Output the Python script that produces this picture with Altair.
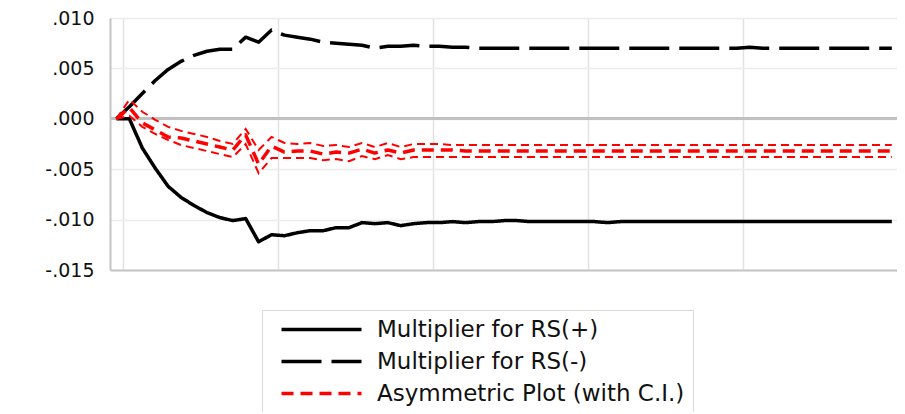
import altair as alt
import pandas as pd

periods = list(range(61))

rs_pos = [0.0, 0.0, -0.0029, -0.0049, -0.0067, -0.0078, -0.0086, -0.0093, -0.0098, -0.0101,
          -0.0099, -0.0122, -0.0115, -0.0116, -0.0113, -0.0111, -0.0111, -0.0108, -0.0108, -0.0103,
          -0.0104, -0.0103, -0.0106, -0.0104, -0.0103, -0.0103, -0.0102, -0.0103, -0.0102, -0.0102,
          -0.0101, -0.0101, -0.0102, -0.0102, -0.0102, -0.0102, -0.0102, -0.0102, -0.0103, -0.0102,
          -0.0102, -0.0102, -0.0102, -0.0102, -0.0102, -0.0102, -0.0102, -0.0102, -0.0102, -0.0102,
          -0.0102, -0.0102, -0.0102, -0.0102, -0.0102, -0.0102, -0.0102, -0.0102, -0.0102, -0.0102,
          -0.0102]

rs_neg = [0.0, 0.0012, 0.0025, 0.0038, 0.0049, 0.0057, 0.0063, 0.0067, 0.0069, 0.0069,
          0.0081, 0.0076, 0.0088, 0.0083, 0.0081, 0.0079, 0.0076, 0.0075, 0.0074, 0.0073,
          0.0070, 0.0072, 0.0072, 0.0073, 0.0072, 0.0072, 0.0071, 0.0071, 0.0070, 0.0070,
          0.0070, 0.0070, 0.0070, 0.0070, 0.0070, 0.0070, 0.0070, 0.0070, 0.0070, 0.0070,
          0.0070, 0.0070, 0.0070, 0.0070, 0.0070, 0.0070, 0.0070, 0.0070, 0.0070, 0.0071,
          0.0070, 0.0070, 0.0070, 0.0070, 0.0070, 0.0070, 0.0070, 0.0070, 0.0070, 0.0070,
          0.0070]

asym = [0.0, 0.0011, -0.0004, -0.0011, -0.0018, -0.0019, -0.0022, -0.0025, -0.0028, -0.0031,
        -0.0016, -0.0045, -0.0027, -0.0033, -0.0032, -0.0032, -0.0035, -0.0033, -0.0034, -0.0030,
        -0.0034, -0.0031, -0.0034, -0.0031, -0.0031, -0.0031, -0.0031, -0.0032, -0.0032, -0.0032,
        -0.0032, -0.0032, -0.0032, -0.0032, -0.0032, -0.0032, -0.0032, -0.0032, -0.0032, -0.0032,
        -0.0032, -0.0032, -0.0032, -0.0032, -0.0032, -0.0032, -0.0032, -0.0032, -0.0032, -0.0032,
        -0.0032, -0.0032, -0.0032, -0.0032, -0.0032, -0.0032, -0.0032, -0.0032, -0.0032, -0.0032,
        -0.0032]

ci_upper = [0.0, 0.0019, 0.0007, -0.0001, -0.0008, -0.0012, -0.0015, -0.0018, -0.0022, -0.0025,
            -0.0010, -0.0031, -0.0018, -0.0024, -0.0025, -0.0024, -0.0027, -0.0026, -0.0028, -0.0024,
            -0.0028, -0.0024, -0.0028, -0.0025, -0.0025, -0.0025, -0.0026, -0.0026, -0.0026, -0.0026,
            -0.0026, -0.0026, -0.0026, -0.0026, -0.0026, -0.0026, -0.0026, -0.0026, -0.0026, -0.0026,
            -0.0026, -0.0026, -0.0026, -0.0026, -0.0026, -0.0026, -0.0026, -0.0026, -0.0026, -0.0026,
            -0.0026, -0.0026, -0.0026, -0.0026, -0.0026, -0.0026, -0.0026, -0.0026, -0.0026, -0.0026,
            -0.0026]

ci_lower = [0.0, 0.0003, -0.0008, -0.0015, -0.0021, -0.0026, -0.0029, -0.0032, -0.0035, -0.0038,
            -0.0025, -0.0054, -0.0039, -0.0039, -0.0039, -0.0039, -0.0041, -0.0040, -0.0042, -0.0037,
            -0.0040, -0.0036, -0.0040, -0.0038, -0.0038, -0.0038, -0.0038, -0.0038, -0.0038, -0.0038,
            -0.0038, -0.0038, -0.0038, -0.0038, -0.0038, -0.0038, -0.0038, -0.0038, -0.0038, -0.0038,
            -0.0038, -0.0038, -0.0038, -0.0038, -0.0038, -0.0038, -0.0038, -0.0038, -0.0038, -0.0038,
            -0.0038, -0.0038, -0.0038, -0.0038, -0.0038, -0.0038, -0.0038, -0.0038, -0.0038, -0.0038,
            -0.0038]

series_names = ["Multiplier for RS(+)", "Multiplier for RS(-)", "Asymmetric Plot (with C.I.)"]
y_ticks = [-0.015, -0.010, -0.005, 0.0, 0.005, 0.010]
x_grid = [0.5, 12.5, 24.5, 36.5, 48.5]

n = len(periods)
df_main = pd.DataFrame({
    "period": periods * 3,
    "value": rs_pos + rs_neg + asym,
    "series": [series_names[0]] * n + [series_names[1]] * n + [series_names[2]] * n,
})
df_ci = pd.DataFrame({
    "period": periods * 2,
    "value": ci_upper + ci_lower,
    "bound": ["upper"] * n + ["lower"] * n,
})

FONT = "DejaVu Sans"

x_enc = alt.X("period:Q",
              scale=alt.Scale(domain=[-0.5, 60.4], nice=False, zero=False),
              axis=alt.Axis(values=x_grid, labels=False, ticks=False, title=None,
                            grid=True, gridColor="#e2e2e2", gridWidth=1.5,
                            domainColor="#c4c4c4", domainWidth=2))
y_enc = alt.Y("value:Q",
              scale=alt.Scale(domain=[-0.015, 0.010], nice=False, zero=False),
              axis=alt.Axis(values=y_ticks, title=None, ticks=False, labelPadding=16,
                            labelExpr="(datum.value < -0.0000001 ? '-' : '') + replace(format(abs(datum.value), '.3f'), '0.', '.')",
                            labelFont=FONT, labelFontSize=19, labelColor="#111111",
                            grid=True, gridColor="#ececec", gridWidth=1.5,
                            domainColor="#c4c4c4", domainWidth=2))

leg = alt.Legend(title=None, orient="none", legendX=152, legendY=292,
                 strokeColor="#d9d9d9", fillColor="white", padding=8,
                 symbolType="M-8,0H8", symbolSize=100, symbolOffset=40,
                 labelOffset=44, labelFont=FONT, labelFontSize=23, labelColor="#111111",
                 labelLimit=800, rowPadding=8)

zero_rule = alt.Chart(df_main).mark_rule(color="#c0c0c0", strokeWidth=2).encode(y=alt.datum(0))

main = alt.Chart(df_main).mark_line(strokeCap="butt", strokeJoin="round").encode(
    x=x_enc, y=y_enc,
    color=alt.Color("series:N", scale=alt.Scale(domain=series_names, range=["#000000", "#000000", "#ff0000"]), legend=leg),
    strokeDash=alt.StrokeDash("series:N", scale=alt.Scale(domain=series_names, range=[[1, 0], [40, 10], [12, 7]]), legend=leg),
    strokeWidth=alt.StrokeWidth("series:N", scale=alt.Scale(domain=series_names, range=[3.5, 3.5, 4]), legend=leg),
)

ci = alt.Chart(df_ci).mark_line(color="#ff0000", strokeWidth=2, strokeDash=[8, 5], strokeCap="butt").encode(
    x=x_enc, y=y_enc, detail="bound:N"
)

chart = alt.layer(zero_rule, main, ci).properties(
    width=787, height=252,
    autosize=alt.AutoSizeParams(type="none"),
    padding={"left": 102, "top": 10, "right": 0, "bottom": 142},
).configure_view(stroke=None)

chart.save("out.html", embed_options={"renderer": "svg", "actions": False})
